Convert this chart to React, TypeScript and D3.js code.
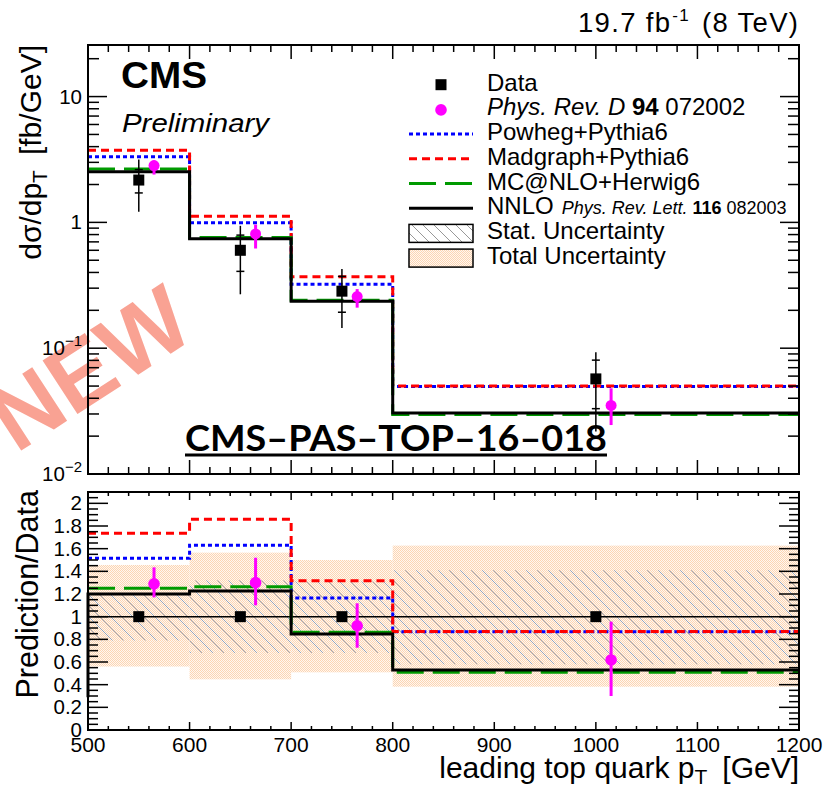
import React from "react";
import * as d3 from "d3";

// ---- binning and measured values ----
const binEdges = [500, 600, 700, 800, 1200];
const dataPt = [550, 650, 750, 1000];
const dataXsec = [2.17, 0.6, 0.284, 0.057];
// relative uncertainties (ratio to data)
const totalLo = [0.56, 0.447, 0.509, 0.382];
const totalHi = [1.456, 1.565, 1.5, 1.627];
const statLo = [0.79, 0.68, 0.68, 0.58];
const statHi = [1.21, 1.32, 1.31, 1.41];

// Phys. Rev. D 94 072002 result
const prdPt = [565, 665, 765, 1015];
const prdXsec = [2.83, 0.81, 0.257, 0.0351];
const prdXsecLo = [2.4, 0.62, 0.21, 0.0245];
const prdXsecHi = [3.1, 0.96, 0.295, 0.048];
const prdRatio = [1.29, 1.3, 0.92, 0.618];
const prdRatioLo = [1.17, 1.1, 0.726, 0.3];
const prdRatioHi = [1.435, 1.52, 1.118, 0.956];

// predictions, fb/GeV
const powhegXsec = [3.33, 0.995, 0.323, 0.0495];
const madgraphXsec = [3.75, 1.12, 0.37, 0.05];
const mcatnloXsec = [2.66, 0.76, 0.24, 0.0297];
const nnloXsec = [2.53, 0.74, 0.236, 0.0306];

// predictions / data
const powhegRatio = [1.515, 1.63, 1.165, 0.866];
const madgraphRatio = [1.736, 1.86, 1.318, 0.87];
const mcatnloRatio = [1.25, 1.265, 0.862, 0.51];
const nnloRatio = [1.2, 1.227, 0.847, 0.53];
const nnloRatioFloor = 0.29;

// axis ticks
const xTickValues = [500, 600, 700, 800, 900, 1000, 1100, 1200];
const ratioTickValues = [0, 0.2, 0.4, 0.6, 0.8, 1, 1.2, 1.4, 1.6, 1.8, 2];
const logTickValues = [0.01, 0.1, 1, 10];

const legendLabels = [
  "Data",
  "Phys. Rev. D 94 072002",
  "Powheg+Pythia6",
  "Madgraph+Pythia6",
  "MC@NLO+Herwig6",
  "NNLO Phys. Rev. Lett. 116 082003",
  "Stat. Uncertainty",
  "Total Uncertainty",
];

const SANS = "'Liberation Sans', Arial, Helvetica, sans-serif";

const W = 823;
const H = 789;
const left = 88;
const right = 799;
const upTop = 45;
const upBot = 474;
const loTop = 492;
const loBot = 730;

const x = d3.scaleLinear().domain([500, 1200]).range([left, right]);
const yUp = d3.scaleLog().domain([0.01, 25.7]).range([upBot, upTop]);
const yLo = d3.scaleLinear().domain([0, 2.1]).range([loBot, loTop]);

const seriesStyle = [
  { color: "#0000ff", dash: "4 3", width: 3 },
  { color: "#ff0000", dash: "8 5", width: 3 },
  { color: "#009a00", dash: "27 9", width: 3 },
  { color: "#000000", dash: "", width: 3 },
];

function stepPoints(vals: number[]): [number, number][] {
  return vals.flatMap((v, i) => [
    [binEdges[i], v] as [number, number],
    [binEdges[i + 1], v] as [number, number],
  ]);
}

function StepLine({ vals, y, style, lead }: any) {
  const pts = stepPoints(vals);
  if (lead !== undefined) pts.unshift([binEdges[0], lead]);
  const gen = d3
    .line<[number, number]>()
    .x((d) => x(d[0]))
    .y((d) => y(d[1]));
  return (
    <path
      d={gen(pts) || ""}
      fill="none"
      stroke={style.color}
      strokeWidth={style.width}
      strokeDasharray={style.dash || undefined}
      strokeLinejoin="miter"
    />
  );
}

function Ticks({ top, bot, yScale, yTicks, xMaj, xMin, yMaj, yMin }: any) {
  const els: any[] = [];
  for (let v = 500; v <= 1200; v += 20) {
    const len = v % 100 === 0 ? xMaj : xMin;
    const px = x(v);
    els.push(<line key={"xb" + v} x1={px} x2={px} y1={bot} y2={bot - len} />);
    els.push(<line key={"xt" + v} x1={px} x2={px} y1={top} y2={top + len} />);
  }
  yTicks.forEach((t: any, i: number) => {
    const py = yScale(t.v);
    const len = t.major ? yMaj : yMin;
    els.push(<line key={"yl" + i} x1={left} x2={left + len} y1={py} y2={py} />);
    els.push(<line key={"yr" + i} x1={right} x2={right - len} y1={py} y2={py} />);
  });
  return (
    <g stroke="#000" strokeWidth={1.5}>
      {els}
    </g>
  );
}

export default function App() {
  // log-axis ticks (decades plus 2..9 subdivisions)
  const logTicks: { v: number; major: boolean }[] = [];
  for (let d = -2; d <= 1; d++) {
    for (let k = 1; k <= 9; k++) {
      const v = k * Math.pow(10, d);
      if (v <= 25.7) logTicks.push({ v, major: k === 1 });
    }
  }
  const ratioTicks: { v: number; major: boolean }[] = [];
  for (let i = 0; i <= 42; i++) {
    const v = i * 0.05;
    ratioTicks.push({ v, major: i % 4 === 0 });
  }

  const sq = 11;
  const upSeries = [powhegXsec, madgraphXsec, mcatnloXsec, nnloXsec];
  const loSeries = [powhegRatio, madgraphRatio, mcatnloRatio, nnloRatio];

  const legX = 487;
  const legSampleX0 = 409;
  const legSampleX1 = 473;
  const legBase = (i: number) => 90.7 + 24.7 * i;

  return (
    <svg
      width={W}
      height={H}
      viewBox={`0 0 ${W} ${H}`}
      style={{ position: "absolute", left: 0, top: 0, display: "block", background: "#fff" }}
      fontFamily={SANS}
    >
      <defs>
        <pattern id="totalFill" patternUnits="userSpaceOnUse" width={2} height={2}>
          <rect width={2} height={2} fill="#fff7f0" />
          <rect width={1} height={1} fill="#fcd5b3" />
          <rect x={1} y={1} width={1} height={1} fill="#fcd5b3" />
        </pattern>
        <pattern id="statHatch" patternUnits="userSpaceOnUse" width={11} height={11}>
          <path
            d="M0,0 L11,11 M-5.5,5.5 L5.5,16.5 M5.5,-5.5 L16.5,5.5"
            stroke="#9aa5b8"
            strokeWidth={1}
            fill="none"
          />
        </pattern>
        <pattern id="legHatch" patternUnits="userSpaceOnUse" width={11} height={11}>
          <path
            d="M0,0 L11,11 M-5.5,5.5 L5.5,16.5 M5.5,-5.5 L16.5,5.5"
            stroke="#8c8c8c"
            strokeWidth={0.9}
            fill="none"
          />
        </pattern>
      </defs>
      <rect width={W} height={H} fill="#fff" />

      {/* NEW stamp */}
      <text
        transform="translate(16,454) rotate(-33)"
        fontSize={93}
        fontWeight="bold"
        fill="#f9a293"
      >
        NEW
      </text>

      {/* ===== upper panel ===== */}
      {upSeries.map((vals, i) => (
        <StepLine key={"u" + i} vals={vals} y={yUp} style={seriesStyle[i]} />
      ))}

      {/* data error bars and markers */}
      {dataPt.map((p, i) => {
        const px = x(p);
        const v = dataXsec[i];
        return (
          <g key={"d" + i}>
            <line
              x1={px}
              x2={px}
              y1={yUp(v * totalLo[i])}
              y2={yUp(v * totalHi[i])}
              stroke="#000"
              strokeWidth={1.5}
            />
            {[statLo[i], statHi[i]].map((r, j) => (
              <line
                key={j}
                x1={px - 4}
                x2={px + 4}
                y1={yUp(v * r)}
                y2={yUp(v * r)}
                stroke="#000"
                strokeWidth={1.5}
              />
            ))}
            <rect x={px - sq / 2} y={yUp(v) - sq / 2} width={sq} height={sq} fill="#000" />
          </g>
        );
      })}
      {prdPt.map((p, i) => {
        const px = x(p);
        return (
          <g key={"p" + i}>
            <line
              x1={px}
              x2={px}
              y1={yUp(prdXsecLo[i])}
              y2={yUp(prdXsecHi[i])}
              stroke="#ff00ff"
              strokeWidth={3}
            />
            <circle cx={px} cy={yUp(prdXsec[i])} r={5.5} fill="#ff00ff" />
          </g>
        );
      })}

      {/* upper frame */}
      <rect
        x={left}
        y={upTop}
        width={right - left}
        height={upBot - upTop}
        fill="none"
        stroke="#000"
        strokeWidth={2}
      />
      <Ticks top={upTop} bot={upBot} yScale={yUp} yTicks={logTicks} xMaj={14} xMin={7} yMaj={19} yMin={11} />

      {/* upper y tick labels */}
      <g fontSize={20.5} textAnchor="end">
        {logTickValues.map((v) => {
          const py = yUp(v) + 7;
          const e = Math.round(Math.log10(v));
          if (e >= 0)
            return (
              <text key={v} x={82} y={py}>
                {e === 0 ? "1" : "10"}
              </text>
            );
          return (
            <text key={v} x={82} y={py}>
              10
              <tspan dy={-9} fontSize={15}>
                {"\u2212" + Math.abs(e)}
              </tspan>
            </text>
          );
        })}
      </g>

      {/* upper y title */}
      <text transform="translate(41,45) rotate(-90)" textAnchor="end" fontSize={30}>
        dσ/dp
        <tspan dy={6} fontSize={21}>
          T
        </tspan>
        <tspan dy={-6}>{"\u2002[fb/GeV]"}</tspan>
      </text>

      {/* CMS labels */}
      <text x={121} y={88} fontSize={36} fontWeight="bold" textLength={86} lengthAdjust="spacingAndGlyphs">
        CMS
      </text>
      <text x={122} y={132} fontSize={25} fontStyle="italic" textLength={147} lengthAdjust="spacingAndGlyphs">
        Preliminary
      </text>

      {/* luminosity label */}
      <text x={578} y={32} fontSize={27.5} textLength={220} lengthAdjust="spacing">
        19.7 fb
        <tspan dx={1} dy={-11} fontSize={17}>
          -1
        </tspan>
        <tspan dx={3} dy={11}>{" (8 TeV)"}</tspan>
      </text>

      {/* document tag */}
      <text
        x={185}
        y={451}
        fontFamily="Lato, 'Open Sans', sans-serif"
        fontWeight="bold"
        fontSize={36}
        textLength={422}
        lengthAdjust="spacingAndGlyphs"
      >
        CMS–PAS–TOP–16–018
      </text>
      <line x1={185} x2={607} y1={455} y2={455} stroke="#000" strokeWidth={3} />

      {/* legend */}
      <g fontSize={24}>
        {/* Data */}
        <rect x={441 - sq / 2} y={legBase(0) - 6 - sq / 2} width={sq} height={sq} fill="#000" />
        <text x={legX} y={legBase(0)}>
          {legendLabels[0]}
        </text>
        {/* PRD */}
        <circle cx={441} cy={legBase(1) - 5.5} r={5.8} fill="#ff00ff" />
        <text x={legX} y={legBase(1)}>
          <tspan fontStyle="italic">Phys. Rev. D</tspan>
          <tspan fontWeight="bold"> 94</tspan>
          <tspan> 072002</tspan>
        </text>
        {[2, 3, 4, 5].map((row, k) => {
          const st = seriesStyle[k];
          const cy = legBase(row) - 6;
          return (
            <line
              key={row}
              x1={legSampleX0}
              x2={legSampleX1}
              y1={cy}
              y2={cy}
              stroke={st.color}
              strokeWidth={st.width}
              strokeDasharray={st.dash || undefined}
            />
          );
        })}
        <text x={legX} y={legBase(2)}>
          {legendLabels[2]}
        </text>
        <text x={legX} y={legBase(3)}>
          {legendLabels[3]}
        </text>
        <text x={legX} y={legBase(4)}>
          {legendLabels[4]}
        </text>
        <text x={legX} y={legBase(5)}>
          NNLO
          <tspan fontSize={18} dx={8} fontStyle="italic">
            Phys. Rev. Lett.
          </tspan>
          <tspan fontSize={18} fontWeight="bold">
            {" 116"}
          </tspan>
          <tspan fontSize={18}>{" 082003"}</tspan>
        </text>
        {/* uncertainty boxes */}
        <rect
          x={legSampleX0}
          y={legBase(6) - 14.5}
          width={legSampleX1 - legSampleX0}
          height={18}
          fill="url(#legHatch)"
          stroke="#000"
          strokeWidth={1.5}
        />
        <text x={legX} y={legBase(6)}>
          {legendLabels[6]}
        </text>
        <rect
          x={legSampleX0}
          y={legBase(7) - 14.5}
          width={legSampleX1 - legSampleX0}
          height={18}
          fill="url(#totalFill)"
          stroke="#000"
          strokeWidth={1.5}
        />
        <text x={legX} y={legBase(7)}>
          {legendLabels[7]}
        </text>
      </g>

      {/* ===== lower panel ===== */}
      <rect x={0} y={482} width={W} height={H - 482} fill="#fff" />
      {/* bands */}
      {dataPt.map((_, i) => {
        const x0 = x(binEdges[i]);
        const x1 = x(binEdges[i + 1]);
        return (
          <g key={"b" + i}>
            <rect
              x={x0}
              y={yLo(totalHi[i])}
              width={x1 - x0}
              height={yLo(totalLo[i]) - yLo(totalHi[i])}
              fill="url(#totalFill)"
            />
            <rect
              x={x0}
              y={yLo(statHi[i])}
              width={x1 - x0}
              height={yLo(statLo[i]) - yLo(statHi[i])}
              fill="url(#statHatch)"
            />
          </g>
        );
      })}
      <line x1={x(500)} x2={x(1200)} y1={yLo(1)} y2={yLo(1)} stroke="#000" strokeWidth={1.5} />
      {loSeries.map((vals, i) => (
        <StepLine
          key={"l" + i}
          vals={vals}
          y={yLo}
          style={seriesStyle[i]}
          lead={i === 3 ? nnloRatioFloor : undefined}
        />
      ))}
      {dataPt.map((p, i) => (
        <rect key={"ld" + i} x={x(p) - sq / 2} y={yLo(1) - sq / 2} width={sq} height={sq} fill="#000" />
      ))}
      {prdPt.map((p, i) => {
        const px = x(p);
        return (
          <g key={"lp" + i}>
            <line
              x1={px}
              x2={px}
              y1={yLo(prdRatioLo[i])}
              y2={yLo(prdRatioHi[i])}
              stroke="#ff00ff"
              strokeWidth={3}
            />
            <circle cx={px} cy={yLo(prdRatio[i])} r={5.8} fill="#ff00ff" />
          </g>
        );
      })}

      <rect
        x={left}
        y={loTop}
        width={right - left}
        height={loBot - loTop}
        fill="none"
        stroke="#000"
        strokeWidth={2}
      />
      <Ticks top={loTop} bot={loBot} yScale={yLo} yTicks={ratioTicks} xMaj={8} xMin={4} yMaj={20} yMin={10} />

      {/* lower y tick labels */}
      <g fontSize={20.5} textAnchor="end">
        {ratioTickValues.map((v) => (
          <text key={v} x={82} y={yLo(v) + 7}>
            {String(+v.toFixed(1))}
          </text>
        ))}
      </g>
      {/* x tick labels */}
      <g fontSize={21} textAnchor="middle">
        {xTickValues.map((v) => (
          <text key={v} x={x(v)} y={752}>
            {v}
          </text>
        ))}
      </g>

      {/* lower y title */}
      <text transform="translate(38,490) rotate(-90)" textAnchor="end" fontSize={30.5}>
        Prediction/Data
      </text>

      {/* x title */}
      <text x={799} y={778} fontSize={30} textAnchor="end">
        leading top quark p
        <tspan dy={6} fontSize={21}>
          T
        </tspan>
        <tspan dy={-6}>{"\u2002[GeV]"}</tspan>
      </text>
    </svg>
  );
}
